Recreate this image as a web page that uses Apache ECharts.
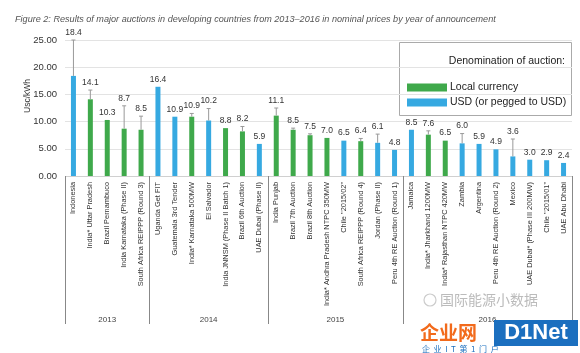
<!DOCTYPE html>
<html><head><meta charset="utf-8">
<script src="https://cdn.jsdelivr.net/npm/echarts@6/dist/echarts.min.js"></script>
<style>html,body{margin:0;padding:0;background:#fff}#c{width:580px;height:353px}</style>
</head><body><div id="c"></div>
<script>
const categories = ["Indonesia","India* Uttar Pradesh","Brazil Pernambuco","India Karnataka (Phase II)","South Africa REIPPP (Round 3)",
"Uganda Get FIT","Guatemala 3rd Tender","India* Karnataka 500MW","El Salvador","India JNNSM (Phase II Batch 1)","Brazil 6th Auction","UAE Dubai (Phase II)",
"India Punjab","Brazil 7th Auction","Brazil 8th Auction","India* Andhra Pradesh NTPC 350MW","Chile \"2015/02\"","South Africa REIPPP (Round 4)","Jordan (Phase II)","Peru 4th RE Auction (Round 1)",
"Jamaica","India* Jharkhand 1200MW","India* Rajasthan NTPC 420MW","Zambia","Argentina","Peru 4th RE Auction (Round 2)","Mexico","UAE Dubai* (Phase III 200MW)","Chile \"2015/01\"","UAE Abu Dhabi"];
const currency = ["U","L","L","L","L", "U","U","L","U","L","L","U", "L","L","L","L","U","L","U","U", "U","L","L","U","U","U","U","U","U","U"];
const values = [18.4,14.1,10.3,8.7,8.5, 16.4,10.9,10.9,10.2,8.8,8.2,5.9, 11.1,8.5,7.5,7.0,6.5,6.4,6.1,4.8, 8.5,7.6,6.5,6.0,5.9,4.9,3.6,3.0,2.9,2.4];
const errorTop = [25.0,15.8,null,12.9,11.0, null,null,11.5,12.4,null,9.1,null, 12.5,8.8,7.75,null,null,6.9,7.7,null, null,8.3,null,7.8,null,null,6.8,null,null,null];
const years = ["2013","2014","2015","2016"];
const yearCounts = [5,7,8,10];

const GREEN = '#3fa94b', BLUE = '#36a9e1';
const localData = values.map((v,i)=> currency[i]==='L' ? v : null);
const usdData = values.map((v,i)=> currency[i]==='U' ? v : null);
const custData = values.map((v,i)=> [i, v, errorTop[i] == null ? v : errorTop[i], errorTop[i] == null ? 0 : 1]);

const chart = echarts.init(document.getElementById('c'), null, {renderer:'canvas'});
const FONT = 'Liberation Sans';
const option = {
  animation:false,
  grid:{left:65, right:8, top:40, bottom:177, containLabel:false},
  title:{text:'Figure 2: Results of major auctions in developing countries from 2013\u20132016 in nominal prices by year of announcement',
    left:10, top:10, textStyle:{fontFamily:FONT, fontStyle:'italic', fontWeight:'normal', fontSize:9.1, color:'#555'}},
  legend:{orient:'vertical', left:402, top:77, itemWidth:40, itemHeight:8, itemGap:4,
    icon:'rect', textStyle:{fontFamily:FONT, fontSize:10.5, color:'#222', padding:[0,0,0,-2]},
    data:['Local currency','USD (or pegged to USD)']},
  xAxis:{type:'category', data:categories,
    axisLine:{show:false}, axisTick:{show:false},
    axisLabel:{interval:0, rotate:90, fontFamily:FONT, fontSize:7.4, color:'#333', margin:6}},
  yAxis:{type:'value', min:0, max:25, interval:5,
    axisLine:{show:false}, axisTick:{show:false},
    splitLine:{lineStyle:{color:'#e3e3e3', width:1}},
    axisLabel:{formatter:v=>v.toFixed(2), fontFamily:FONT, fontSize:9.5, color:'#333', margin:8}},
  series:[
    {name:'Local currency', type:'bar', data:localData, barWidth:5, barGap:'-100%', itemStyle:{color:GREEN}},
    {name:'USD (or pegged to USD)', type:'bar', data:usdData, barWidth:5, barGap:'-100%', itemStyle:{color:BLUE}},
    {type:'custom', data:custData, encode:{x:0,y:1}, z:5,
      renderItem:(params, api)=>{
        const idx = api.value(0);
        const base = api.coord([idx, api.value(1)]);
        const top = api.coord([idx, api.value(2)]);
        const children = [];
        if (api.value(3)) {
          children.push({type:'line', shape:{x1:base[0], y1:base[1], x2:top[0], y2:top[1]}, style:{stroke:'#999', lineWidth:1}});
          children.push({type:'line', shape:{x1:top[0]-2, y1:top[1], x2:top[0]+2, y2:top[1]}, style:{stroke:'#999', lineWidth:1}});
        }
        children.push({type:'text', x:top[0], y:top[1]-3, style:{text:values[idx].toFixed(1), fontFamily:FONT, fontSize:8.5, fill:'#333', align:'center', verticalAlign:'bottom'}});
        return {type:'group', children};
      }}
  ]
};
chart.setOption(option);

const p0 = chart.convertToPixel({xAxisIndex:0}, 0);
const p1 = chart.convertToPixel({xAxisIndex:0}, 1);
const band = p1 - p0;
const y0 = chart.convertToPixel({yAxisIndex:0}, 0);
const g = [];
let start = 0;
const bounds = [0];
yearCounts.forEach(c=>{ start += c; bounds.push(start); });
bounds.forEach(b=>{
  const x = Math.round(p0 - band/2 + b*band) + 0.5;
  g.push({type:'line', shape:{x1:x, y1:y0, x2:x, y2:y0+148}, style:{stroke:'#888', lineWidth:1}, z:10});
});
years.forEach((yr,i)=>{
  const xm = p0 - band/2 + (bounds[i]+bounds[i+1])/2*band;
  g.push({type:'text', x:xm, y:y0+144, style:{text:yr, fontFamily:FONT, fontSize:8, fill:'#444', align:'center', verticalAlign:'middle'}, z:10});
});
g.push({type:'line', shape:{x1:p0-band/2, y1:Math.round(y0)+0.5, x2:p0-band/2+30*band, y2:Math.round(y0)+0.5}, style:{stroke:'#d0d0d0', lineWidth:1}, z:1});
g.push({type:'text', x:28, y:96, rotation:Math.PI/2, style:{text:'Usc/kWh', fontFamily:FONT, fontSize:8.5, fill:'#333', align:'center', verticalAlign:'middle'}});
g.push({type:'rect', shape:{x:399.5, y:42.5, width:172, height:73}, style:{fill:'#fff', stroke:'#aaa', lineWidth:1}, z:-1});
g.push({type:'text', x:565, y:61, style:{text:'Denomination of auction:', fontFamily:FONT, fontSize:10.5, fill:'#222', align:'right', verticalAlign:'middle'}, z:20});
g.push({type:'text', x:440, y:300, style:{text:'国际能源小数据', fontFamily:'Noto Sans CJK SC', fontSize:14, fill:'#bbb', align:'left', verticalAlign:'middle'}, z:30});
g.push({type:'circle', shape:{cx:430, cy:300, r:6}, style:{fill:'none', stroke:'#ccc', lineWidth:1.2}, z:30});
g.push({type:'text', x:420, y:333, style:{text:'企业网', fontFamily:'Noto Sans CJK SC', fontSize:19, fontWeight:'bold', fill:'#f26a1b', align:'left', verticalAlign:'middle'}, z:30});
g.push({type:'rect', shape:{x:494, y:320, width:84, height:26}, style:{fill:'#1b6fbf'}, z:30});
g.push({type:'text', x:536, y:333, style:{text:'D1Net', fontFamily:FONT, fontSize:22, fontWeight:'bold', fill:'#fff', align:'center', verticalAlign:'middle'}, z:31});
g.push({type:'text', x:422, y:349, style:{text:'企  业  I  T  第  1  门  户', fontFamily:'Noto Sans CJK SC', fontSize:8, fill:'#1b6fbf', align:'left', verticalAlign:'middle'}, z:30});
chart.setOption({graphic:g});
</script></body></html>
